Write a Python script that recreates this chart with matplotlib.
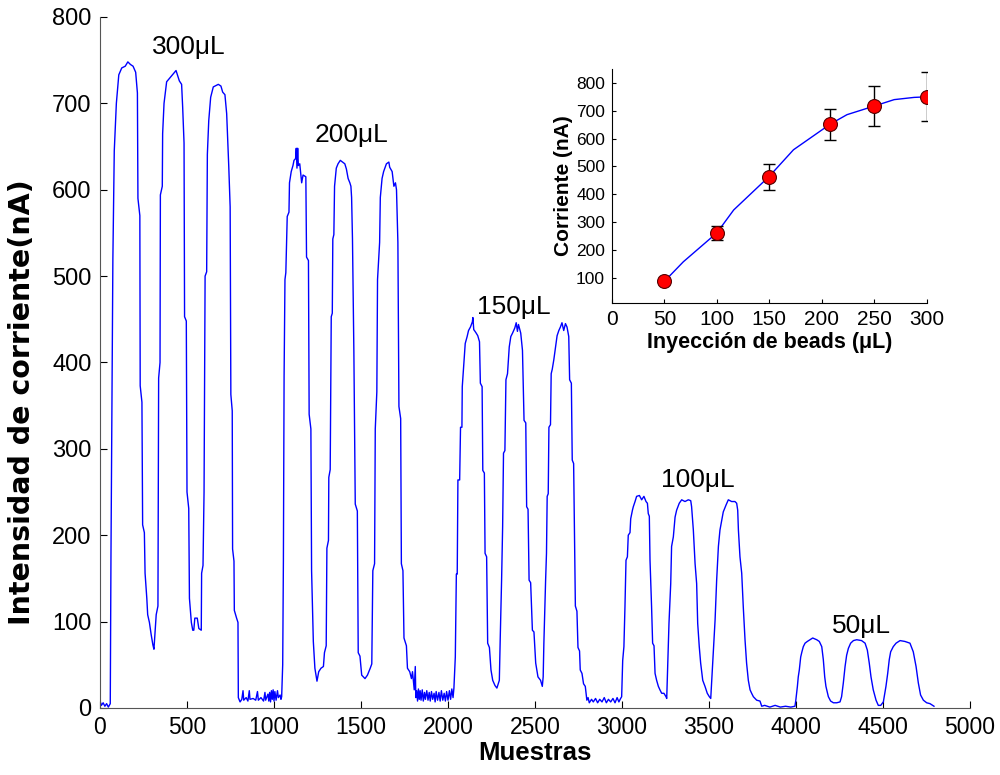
import matplotlib
matplotlib.use('Agg')
import matplotlib.pyplot as plt

plt.rcParams['font.family'] = ['Liberation Sans', 'DejaVu Sans']

# main trace, vertices (sample, nA), one group per volume
s_300 = [0, 8, 18, 28, 38, 48, 56, 59, 63, 74, 82, 94, 108, 125, 145, 160, 175, 190, 205, 215, 218, 229, 231,
         241, 245, 255, 259, 269, 274, 284, 294, 304, 310, 314, 323, 333, 337, 345, 347, 358, 360, 368, 383,
         412, 437, 456, 469, 475, 483, 486, 496, 500, 510, 514, 525, 533, 539, 545, 559, 568, 582, 584, 592,
         598, 604, 613, 617, 625, 636, 651, 680, 695, 705, 718, 728, 740, 748, 752, 760, 762, 770, 772, 785,
         793, 795]
i_300 = [8, 3, 6, 2, 5, 1, 4, 5, 175, 520, 645, 700, 733, 741, 743, 748, 745, 743, 736, 712, 590, 570, 373,
         354, 212, 203, 156, 127, 108, 99, 85, 73, 68, 80, 108, 118, 382, 400, 594, 604, 665, 700, 725,
         732, 738, 726, 722, 696, 654, 453, 448, 250, 231, 127, 99, 90, 90, 104, 104, 92, 90, 156, 165,
         250, 500, 505, 641, 680, 707, 719, 722, 720, 713, 710, 688, 627, 580, 363, 344, 184, 170, 113, 104,
         99, 12]

s_base1 = [805, 815, 822, 826, 840, 850, 858, 862, 880, 895, 905, 910, 925, 940, 948, 952, 965, 970, 975,
           980, 985, 990, 995, 1000, 1005, 1012, 1020, 1025, 1035, 1040, 1044]
i_base1 = [7, 10, 20, 9, 12, 8, 20, 10, 11, 9, 19, 9, 12, 8, 18, 9, 16, 8, 18, 7, 20, 10, 21, 8, 19, 9, 20,
           12, 15, 10, 13]

s_200 = [1050, 1054, 1058, 1063, 1068, 1076, 1086, 1089, 1099, 1109, 1115, 1124, 1128, 1132, 1136, 1140,
         1148, 1159, 1167, 1183, 1187, 1198, 1202, 1212, 1216, 1226, 1235, 1247, 1257, 1270, 1284, 1290,
         1300, 1304, 1313, 1315, 1323, 1329, 1335, 1338, 1344, 1348, 1358, 1368, 1381, 1407, 1416, 1426,
         1436, 1442, 1446, 1451, 1459, 1467, 1479, 1484, 1494, 1504, 1523, 1537, 1553, 1562, 1568, 1578,
         1582, 1591, 1595, 1607, 1611, 1621, 1630, 1646, 1660, 1665, 1679, 1689, 1698, 1704, 1712, 1718,
         1728, 1732, 1741, 1747, 1761, 1767, 1780, 1790, 1796, 1806]
i_200 = [50, 170, 384, 496, 504, 569, 574, 608, 621, 628, 634, 636, 648, 625, 648, 628,
         630, 608, 617, 615, 522, 518, 340, 323, 159, 77, 46, 31, 42, 46, 48, 64,
         72, 185, 194, 267, 276, 453, 457, 543, 548, 604, 625, 630, 634, 630, 624, 613,
         608, 604, 591, 543, 413, 236, 228, 64, 60, 38, 34, 38, 46, 51, 159, 167,
         323, 366, 496, 539, 591, 613, 621, 630, 632, 626, 621, 604, 608, 600, 539, 349,
         335, 167, 159, 81, 72, 46, 42, 34, 42, 21]

s_base2 = [1812, 1815, 1820, 1825, 1830, 1835, 1840, 1845, 1852, 1858, 1865, 1870, 1878, 1885, 1892, 1898,
           1905, 1912, 1920, 1926, 1932, 1940, 1948, 1955, 1962, 1970, 1978, 1985, 1992, 2000, 2008, 2015,
           2022, 2029]
i_base2 = [48, 12, 20, 8, 22, 10, 20, 9, 21, 8, 18, 10, 20, 9, 18, 8, 19, 10, 17, 7, 19, 9, 18, 8, 20, 9,
           17, 8, 19, 9, 20, 10, 22, 12]

s_150 = [2034, 2042, 2048, 2053, 2057, 2067, 2072, 2080, 2082, 2091, 2099, 2110, 2118, 2129, 2140, 2143,
         2148, 2152, 2162, 2171, 2181, 2186, 2196, 2200, 2209, 2213, 2222, 2228, 2238, 2247, 2257, 2270,
         2281, 2289, 2295, 2300, 2308, 2314, 2319, 2327, 2333, 2342, 2352, 2361, 2371, 2384, 2392, 2399,
         2405, 2418, 2428, 2437, 2447, 2452, 2460, 2466, 2475, 2485, 2494, 2504, 2517, 2532, 2542, 2547,
         2551, 2561, 2566, 2570, 2576, 2580, 2589, 2593, 2599, 2608, 2618, 2627, 2637, 2646, 2655, 2665,
         2675, 2684, 2694, 2699, 2709, 2714, 2722, 2732, 2741, 2747, 2756, 2760, 2770, 2779, 2789, 2798]
i_150 = [23, 59, 155, 155, 264, 264, 325, 325, 372, 399, 422, 430, 437, 441, 447, 452,
         438, 437, 434, 431, 424, 376, 372, 275, 272, 179, 175, 75, 70, 44, 32, 26,
         23, 28, 32, 79, 148, 210, 295, 298, 380, 387, 418, 430, 434, 440, 446, 436,
         444, 434, 414, 333, 330, 233, 230, 148, 145, 90, 88, 52, 36, 32, 25, 36,
         75, 148, 179, 245, 248, 325, 328, 387, 392, 403, 418, 431, 437, 441, 446, 437,
         445, 441, 430, 380, 376, 287, 283, 118, 112, 70, 66, 44, 40, 28, 25, 9]

s_base3 = [2805, 2812, 2825, 2835, 2848, 2860, 2872, 2885, 2898, 2910, 2922, 2935, 2948, 2960, 2972, 2982,
           2992]
i_base3 = [12, 6, 10, 7, 11, 6, 10, 7, 12, 6, 10, 7, 11, 6, 12, 7, 11]

s_100 = [2998, 3004, 3011, 3017, 3023, 3031, 3036, 3046, 3050, 3060, 3065, 3075, 3084, 3100, 3113, 3126,
         3138, 3146, 3151, 3157, 3161, 3170, 3176, 3184, 3190, 3199, 3209, 3218, 3228, 3241, 3253, 3257,
         3260, 3270, 3280, 3285, 3295, 3305, 3314, 3329, 3343, 3362, 3381, 3395, 3400, 3410, 3420, 3429,
         3435, 3444, 3452, 3464, 3477, 3490, 3502, 3510, 3517, 3525, 3535, 3544, 3554, 3563, 3573, 3582,
         3598, 3611, 3630, 3649, 3659, 3665, 3669, 3678, 3688, 3697, 3707, 3716, 3726, 3736, 3745, 3755,
         3774, 3793, 3803]
i_100 = [13, 55, 71, 117, 171, 175, 200, 203, 219, 229, 233, 239, 245, 246, 241, 245,
         239, 237, 225, 222, 171, 117, 75, 72, 40, 32, 25, 21, 17, 17, 13, 11,
         32, 98, 144, 187, 198, 221, 229, 237, 241, 239, 241, 240, 233, 206, 167, 144,
         98, 71, 52, 32, 25, 17, 13, 11, 36, 63, 102, 148, 187, 206, 217, 227,
         235, 241, 239, 239, 237, 229, 206, 175, 156, 117, 79, 52, 32, 21, 17, 13,
         9, 8, 2]

s_base4 = [3820, 3850, 3880, 3910, 3940, 3970, 3994]
i_base4 = [3, 1, 3, 1, 2, 1, 2]

s_50 = [3999, 4008, 4013, 4019, 4027, 4034, 4042, 4052, 4065, 4080, 4096, 4119, 4134, 4148, 4157, 4165,
        4172, 4186, 4199, 4215, 4234, 4253, 4262, 4272, 4282, 4291, 4301, 4314, 4330, 4349, 4377, 4397,
        4410, 4421, 4431, 4444, 4460, 4473, 4487, 4502, 4517, 4527, 4536, 4544, 4559, 4575, 4598, 4626,
        4655, 4674, 4690, 4703, 4716, 4732, 4751, 4770, 4793]
i_50 = [9, 25, 36, 44, 59, 65, 71, 75, 77, 79, 81, 79, 77, 71, 56, 36,
        25, 13, 8, 6, 6, 7, 13, 29, 48, 61, 69, 75, 78, 79, 78, 75,
        67, 52, 36, 21, 9, 3, 3, 7, 25, 40, 56, 65, 71, 75, 78, 77,
        75, 65, 48, 29, 15, 9, 6, 5, 2]

volume_labels = ['300\u03bcL', '200\u03bcL', '150\u03bcL', '100\u03bcL', '50\u03bcL']
label_pos = [(511, 765), (1448, 663), (2379, 464), (3437, 264), (4379, 95)]

# inset: calibration points
inj_vol = [50, 100, 150, 208, 250, 300]
inj_cur = [88, 260, 462, 651, 716, 751]
inj_err = [5, 25, 48, 57, 72, 89]
fit_x = [50, 68, 100, 116, 150, 173, 208, 224, 250, 269, 288, 300]
fit_y = [88, 158, 262, 344, 465, 560, 652, 686, 717, 740, 748, 750]

samples = s_300 + s_base1 + s_200 + s_base2 + s_150 + s_base3 + s_100 + s_base4 + s_50
current = i_300 + i_base1 + i_200 + i_base2 + i_150 + i_base3 + i_100 + i_base4 + i_50

fig = plt.figure(figsize=(10, 7.75), dpi=100)
ax = fig.add_axes([0.1, 0.0865, 0.87, 0.8916])
ax.plot(samples, current, color='#0000ff', lw=1.0)
ax.set_xlim(0, 5000)
ax.set_ylim(0, 800)
ax.set_xticks(range(0, 5001, 500))
ax.set_yticks(range(0, 801, 100))
ax.tick_params(direction='in', length=5, labelsize=16.5, pad=6)
ax.tick_params(axis='y', labelsize=17)
for side in ['top', 'right']:
    ax.spines[side].set_visible(False)
for side in ['left', 'bottom']:
    ax.spines[side].set_color('#555555')
ax.set_xlabel('Muestras', fontsize=18.5, fontweight='bold', labelpad=1)
ax.set_ylabel('Intensidad de corriente(nA)', family=['DejaVu Sans'], fontsize=20.5,
              fontweight='bold')
ax.yaxis.set_label_coords(-0.074, 0.443)
for txt, (x, y) in zip(volume_labels, label_pos):
    ax.text(x, y, txt, fontsize=19, ha='center', va='center')

ins = fig.add_axes([0.612, 0.609, 0.3147, 0.302])
ins.plot(fit_x, fit_y, color='#0000ff', lw=1.0, zorder=2)
ins.errorbar(inj_vol, inj_cur, yerr=inj_err, fmt='none', ecolor='black', elinewidth=1,
             capsize=4, capthick=1, zorder=3)
ins.plot(inj_vol, inj_cur, 'o', color='#ff0000', mec='#550000', mew=0.8, ms=10, zorder=4)
ins.set_xlim(0, 300)
ins.set_ylim(10, 850)
ins.set_xticks(range(0, 301, 50))
ins.set_yticks(range(100, 801, 100))
ins.tick_params(direction='in', length=3, pad=5)
ins.tick_params(axis='x', labelsize=15)
ins.tick_params(axis='y', labelsize=12.5)
for side in ['top', 'right']:
    ins.spines[side].set_visible(False)
ins.set_xlabel('Inyecci\u00f3n de beads (\u03bcL)', fontsize=15.5, fontweight='bold', labelpad=2)
ins.set_ylabel('Corriente (nA)', fontsize=15, fontweight='bold', labelpad=2)

fig.savefig('out.png', dpi=100)
